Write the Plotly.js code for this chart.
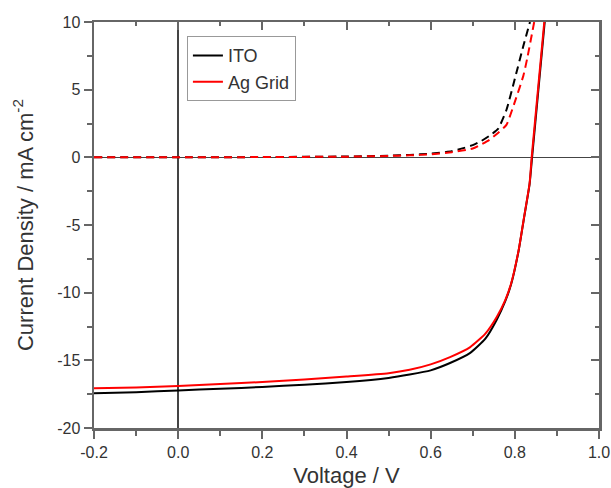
<!DOCTYPE html>
<html>
<head>
<meta charset="utf-8">
<script src="https://cdn.plot.ly/plotly-3.0.1.min.js"></script>
<style>html,body{margin:0;padding:0;background:#fff;}#chart{width:611px;height:488px;}</style>
</head>
<body>
<div id="chart"></div>
<script>
// Light J-V (solid)
const itoLightV = [-0.2,-0.1,0,0.1,0.2,0.3,0.4,0.5,0.55,0.6,0.646,0.694,0.73,0.757,0.777,0.791,0.809,0.822,0.835,0.841,0.856,0.871];
const itoLightJ = [-17.44,-17.35,-17.22,-17.1,-16.97,-16.8,-16.6,-16.3,-16.05,-15.74,-15.2,-14.45,-13.4,-12.0,-10.65,-9.4,-6.9,-4.45,-2.0,0,5,10];
const agLightV = [-0.2,-0.1,0,0.1,0.2,0.3,0.4,0.5,0.55,0.6,0.646,0.694,0.73,0.757,0.777,0.791,0.809,0.822,0.835,0.840,0.855,0.870];
const agLightJ = [-17.07,-17.0,-16.9,-16.75,-16.6,-16.42,-16.2,-15.95,-15.7,-15.3,-14.76,-14.02,-13.03,-11.8,-10.57,-9.34,-6.87,-4.41,-1.95,0,5,10];
// Dark J-V (dashed)
const itoDarkV = [-0.2,0,0.2,0.4,0.5,0.55,0.6,0.65,0.68,0.7,0.72,0.74,0.76,0.78,0.8,0.82,0.836];
const itoDarkJ = [0,0,0.02,0.06,0.12,0.18,0.27,0.45,0.7,0.9,1.2,1.6,2.1,3.5,5.8,8.2,10];
const agDarkV = [-0.2,0,0.2,0.4,0.5,0.55,0.6,0.65,0.7,0.72,0.74,0.76,0.78,0.8,0.82,0.83,0.846];
const agDarkJ = [0,0,0.02,0.05,0.1,0.15,0.22,0.38,0.65,0.95,1.3,1.8,2.4,4.1,6.0,7.4,10];

const xTickVals = [-0.2,0,0.2,0.4,0.6,0.8,1.0];
const xTickText = ["-0.2","0.0","0.2","0.4","0.6","0.8","1.0"];
const yTickVals = [-20,-15,-10,-5,0,5,10];
const yTickText = ["-20","-15","-10","-5","0","5","10"];

const seriesNames = ["ITO","Ag Grid"];
const seriesColors = ["#000000","#ff0000"];

const traces = [
  {x: itoDarkV, y: itoDarkJ, mode:'lines', line:{color:seriesColors[0], width:2, dash:'8px,5px', shape:'spline', smoothing:0.5}, showlegend:false, hoverinfo:'skip'},
  {x: agDarkV, y: agDarkJ, mode:'lines', line:{color:seriesColors[1], width:2, dash:'8px,5px', shape:'spline', smoothing:0.5}, showlegend:false, hoverinfo:'skip'},
  {x: itoLightV, y: itoLightJ, mode:'lines', name:seriesNames[0], line:{color:seriesColors[0], width:2, shape:'spline', smoothing:0.5}},
  {x: agLightV, y: agLightJ, mode:'lines', name:seriesNames[1], line:{color:seriesColors[1], width:2, shape:'spline', smoothing:0.5}},
  {x:[0.5], y:[-19], xaxis:'x2', yaxis:'y2', mode:'markers', marker:{opacity:0, size:1}, showlegend:false, hoverinfo:'skip'}
];

const axCol = '#666666';
const txtCol = '#333333';
const fam = 'Liberation Sans, Arial, sans-serif';

const layout = {
  width:611, height:488,
  margin:{l:94, r:12, t:22, b:60},
  paper_bgcolor:'#fff', plot_bgcolor:'#fff',
  font:{family:fam, size:16, color:txtCol},
  showlegend:true,
  legend:{x:0.184, y:0.965, xanchor:'left', yanchor:'top', bgcolor:'#fff', bordercolor:'#999', borderwidth:1,
          font:{family:fam, size:18, color:txtCol}, tracegroupgap:0},
  xaxis:{range:[-0.2,1.0], tickmode:'array', tickvals:xTickVals, ticktext:xTickText,
         showline:true, linecolor:axCol, linewidth:2.5, ticks:'outside', ticklen:8, tickwidth:2, tickcolor:axCol,
         minor:{tickmode:'linear', tick0:-0.2, dtick:0.1, ticks:'outside', ticklen:5, tickwidth:2, tickcolor:axCol},
         showgrid:false, zeroline:true, zerolinecolor:'#444', zerolinewidth:1.5,
         title:{text:'Voltage / V', font:{family:fam, size:22, color:txtCol}, standoff:24}, automargin:false},
  yaxis:{range:[-20,10], tickmode:'array', tickvals:yTickVals, ticktext:yTickText,
         showline:true, linecolor:axCol, linewidth:2.5, ticks:'outside', ticklen:8, tickwidth:2, tickcolor:axCol,
         minor:{tickmode:'linear', tick0:-20, dtick:2.5, ticks:'outside', ticklen:5, tickwidth:2, tickcolor:axCol},
         showgrid:false, zeroline:true, zerolinecolor:'#444', zerolinewidth:1.5,
         title:{text:'Current Density / mA cm<sup>-2</sup>', font:{family:fam, size:22, color:txtCol}, standoff:18}, automargin:false},
  xaxis2:{overlaying:'x', side:'top', anchor:'y', range:[-0.2,1.0], tickmode:'array', tickvals:xTickVals,
          showticklabels:false, showline:true, linecolor:axCol, linewidth:2.5, ticks:'inside', ticklen:8, tickwidth:2, tickcolor:axCol,
          minor:{tickmode:'linear', tick0:-0.2, dtick:0.1, ticks:'inside', ticklen:4, tickwidth:2, tickcolor:axCol},
          showgrid:false, zeroline:false},
  yaxis2:{overlaying:'y', side:'right', anchor:'x', range:[-20,10], tickmode:'array', tickvals:yTickVals,
          showticklabels:false, showline:true, linecolor:axCol, linewidth:2.5, ticks:'inside', ticklen:8, tickwidth:2, tickcolor:axCol,
          minor:{tickmode:'linear', tick0:-20, dtick:2.5, ticks:'inside', ticklen:4, tickwidth:2, tickcolor:axCol},
          showgrid:false, zeroline:false}
};

Plotly.newPlot('chart', traces, layout, {displayModeBar:false, staticPlot:true});
</script>
</body>
</html>
